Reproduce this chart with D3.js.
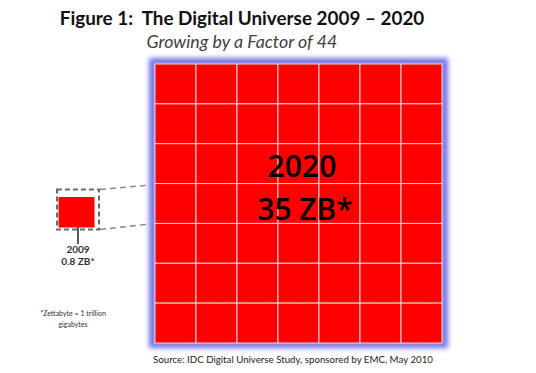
<!DOCTYPE html>
<html><head><meta charset="utf-8">
<script src="https://cdn.jsdelivr.net/npm/d3@7"></script>
<style>body{margin:0;background:#fff}svg{display:block}text{white-space:pre}</style>
</head><body>
<script>
const title = "Figure 1:  The Digital Universe 2009 \u2013 2020";
const subtitle = "Growing by a Factor of 44";
const years = ["2009", "2020"];
const values = [0.8, 35];
const unit = "ZB*";
const gridRows = [0,1,2,3,4,5,6];
const gridCols = [0,1,2,3,4,5,6];
const footnote = ["*Zettabyte = 1 trillion", "gigabytes"];
const source = "Source: IDC Digital Universe Study, sponsored by EMC, May 2010";

const W = 536, H = 373;
const svg = d3.select("body").append("svg").attr("width", W).attr("height", H);
const defs = svg.append("defs");
defs.append("filter").attr("id","glow").attr("x","-10%").attr("y","-10%").attr("width","120%").attr("height","120%")
  .append("feGaussianBlur").attr("stdDeviation", 2.5);

function fitText(sel, target){
  const n = sel.node(); const w = n.getComputedTextLength();
  const fs = parseFloat(sel.attr("font-size"));
  sel.attr("font-size", fs * target / w);
}

// Title
const t = svg.append("text").attr("x", 242).attr("y", 25).attr("text-anchor","middle")
  .attr("font-family","Lato, 'Open Sans', sans-serif").attr("font-weight","bold").attr("font-size",18)
  .attr("fill","#111").text(title);
fitText(t, 365);
const st = svg.append("text").attr("x", 242).attr("y", 48).attr("text-anchor","middle")
  .attr("font-family","Lato, 'Open Sans', sans-serif").attr("font-style","italic").attr("font-size",16)
  .attr("fill","#404040").text(subtitle);
fitText(st, 191);

// Big grid
const x = d3.scaleBand().domain(gridCols).range([155, 442]);
const y = d3.scaleBand().domain(gridRows).range([64, 343]);
svg.append("rect").attr("x", 149).attr("y", 58).attr("width", 299).attr("height", 290)
  .attr("fill", "#7474e6").attr("filter","url(#glow)");
svg.append("rect").attr("x", 153).attr("y", 62).attr("width", 291).attr("height", 283)
  .attr("fill", "#8a8af0");
const cells = [];
gridRows.forEach(r => gridCols.forEach(c => cells.push({r, c})));
svg.append("g").selectAll("rect").data(cells).join("rect")
  .attr("x", d => x(d.c)).attr("y", d => y(d.r))
  .attr("width", x.bandwidth()).attr("height", y.bandwidth())
  .attr("fill", "#ff0000").attr("stroke", "#ddd8d8").attr("stroke-width", 1);

const bigCx = 305;
const bt1 = svg.append("text").attr("x", bigCx - 3).attr("y", 177).attr("text-anchor","middle")
  .attr("font-family","'Open Sans', Lato, sans-serif").attr("font-weight",600).attr("font-size",30).attr("fill","#000")
  .text(years[1]);
fitText(bt1, 69);
const bt2 = svg.append("text").attr("x", bigCx).attr("y", 220).attr("text-anchor","middle")
  .attr("font-family","'Open Sans', Lato, sans-serif").attr("font-weight",600).attr("font-size",30).attr("fill","#000")
  .text(values[1] + " " + unit);
fitText(bt2, 95);

// Small square with zoom box
const box = svg.append("rect").attr("x", 57).attr("y", 189.5).attr("width", 42).attr("height", 40)
  .attr("stroke","#6b6b6b").attr("stroke-width",2).attr("stroke-dasharray","5,3").attr("fill","none");
svg.append("rect").attr("x", 58.5).attr("y", 197).attr("width", 36).attr("height", 30.5).attr("fill","#ff0000");
const l1 = svg.append("line").attr("x1", 100).attr("y1", 189.5).attr("x2", 150).attr("y2", 185);
const l2 = svg.append("line").attr("x1", 100).attr("y1", 229.5).attr("x2", 150).attr("y2", 224);
[l1,l2].forEach(l => { l.attr("stroke","#8a8a8a").attr("stroke-width",1.5).attr("stroke-dasharray","6,4"); });
svg.append("line").attr("x1", 78).attr("y1", 227).attr("x2", 78).attr("y2", 244)
  .attr("stroke","#222").attr("stroke-width",1.5);
svg.append("text").attr("x", 78).attr("y", 253).attr("text-anchor","middle")
  .attr("font-family","Lato, 'Open Sans', sans-serif").attr("font-weight","bold").attr("font-size",10).attr("fill","#333")
  .text(years[0]);
svg.append("text").attr("x", 78).attr("y", 265).attr("text-anchor","middle")
  .attr("font-family","Lato, 'Open Sans', sans-serif").attr("font-weight","bold").attr("font-size",10).attr("fill","#333")
  .text(values[0] + " " + unit);

// Footnote
footnote.forEach((s, i) => {
  svg.append("text").attr("x", 73).attr("y", 316 + i * 11).attr("text-anchor","middle")
    .attr("font-family","Lato, 'Open Sans', sans-serif").attr("font-size",7).attr("fill","#333").text(s);
});

// Source
const src = svg.append("text").attr("x", 293).attr("y", 363).attr("text-anchor","middle")
  .attr("font-family","Lato, 'Open Sans', sans-serif").attr("font-size",10).attr("fill","#222").text(source);
fitText(src, 280);
</script>
</body></html>
